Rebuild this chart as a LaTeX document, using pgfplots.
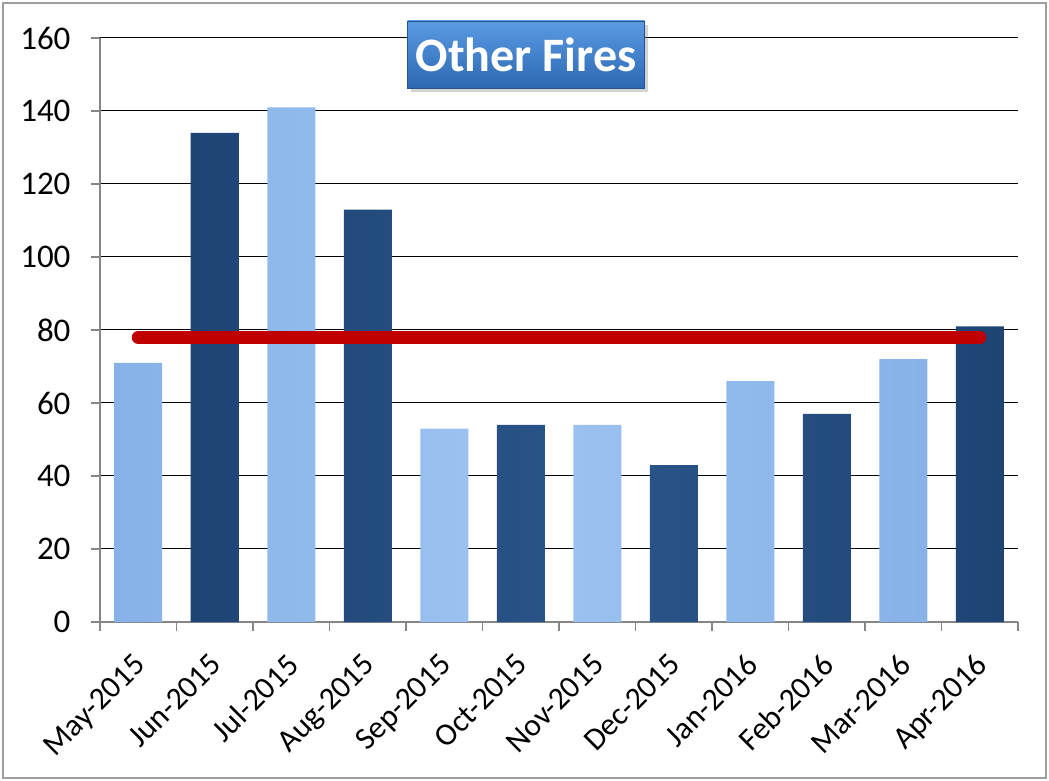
\documentclass[border=0pt]{standalone}
\usepackage{pgfplots}
\pgfplotsset{compat=1.18}
\usepackage{fontspec}
\setmainfont{Carlito}
\usetikzlibrary{shadows}
\definecolor{lightbar}{HTML}{9DC3F0}
\definecolor{lightedge}{HTML}{86B2E8}
\definecolor{darkbar}{HTML}{2A558A}
\definecolor{darkedge}{HTML}{1E4474}
\definecolor{avgred}{HTML}{C00000}
\definecolor{axisgray}{HTML}{868686}
\definecolor{titletop}{HTML}{5A9BE2}
\definecolor{titlebot}{HTML}{2D68B3}
\begin{document}
\begin{tikzpicture}
\path[use as bounding box] (-100pt,-159pt) rectangle (949pt,622pt);
\draw[axisgray!80, line width=1.5pt] (-97pt,-156pt) rectangle (946pt,619pt);
\begin{axis}[
  at={(0pt,0pt)}, anchor=south west,
  scale only axis, width=918pt, height=584pt,
  xmin=-0.5, xmax=11.5, ymin=0, ymax=160,
  clip=false,
  ytick={0,20,...,160},
  ymajorgrids, major grid style={black, line width=1pt},
  axis x line*=bottom, axis y line*=left,
  axis line style={-, axisgray, line width=1.5pt},
  tick align=outside, major tick length=9pt,
  tick style={axisgray, line width=1.5pt},
  xtick={-0.5,0.5,...,11.5}, xticklabels={},
  extra x ticks={0,1,...,11},
  extra x tick labels={May-2015,Jun-2015,Jul-2015,Aug-2015,Sep-2015,Oct-2015,Nov-2015,Dec-2015,Jan-2016,Feb-2016,Mar-2016,Apr-2016},
  extra x tick style={major tick length=0pt, grid=none,
    xticklabel style={xshift=-6pt, yshift=-25pt, rotate=45, anchor=north east,
      font=\fontsize{31.5}{34}\selectfont}},
  yticklabel style={xshift=-17pt, font=\fontsize{33}{36}\selectfont},
  /pgf/number format/assume math mode=true,
]
\addplot[ybar, bar width=48pt, bar shift=0pt, draw=none,
  left color=lightedge, right color=lightedge, middle color=lightbar]
  coordinates {(0,71) (2,141) (4,53) (6,54) (8,66) (10,72)};
\addplot[ybar, bar width=48pt, bar shift=0pt, draw=none,
  left color=darkedge, right color=darkedge, middle color=darkbar]
  coordinates {(1,134) (3,113) (5,54) (7,43) (9,57) (11,81)};
\addplot[avgred, line width=13pt, line cap=round] coordinates {(0,78) (11,78)};
\node[draw=titlebot!80!black, line width=0.8pt, top color=titletop, bottom color=titlebot,
  drop shadow={opacity=0.35, shadow xshift=3pt, shadow yshift=-4pt},
  text=white, font=\bfseries\fontsize{48}{50}\selectfont,
  minimum width=237pt, minimum height=67pt, inner sep=0pt]
  at (axis cs:5.07,155.5) {Other Fires};
\end{axis}
\end{tikzpicture}
\end{document}
